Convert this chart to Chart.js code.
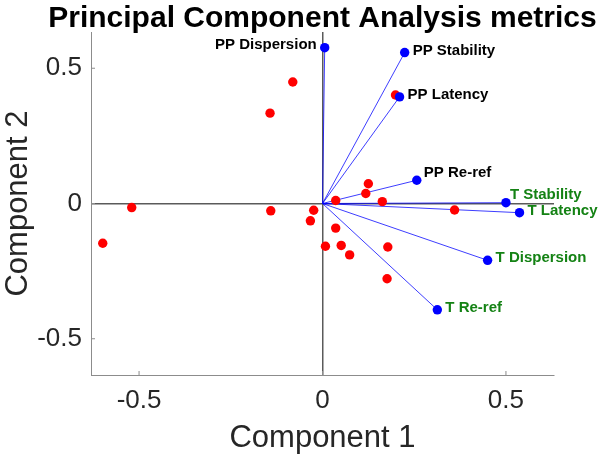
<!DOCTYPE html>
<html>
<head>
<meta charset="utf-8">
<style>
  html, body { margin: 0; padding: 0; background: #fff; }
</style>
</head>
<body>
<canvas id="pcaChart" width="600" height="454"></canvas>

<script src="https://cdn.jsdelivr.net/npm/chart.js"></script>
<script>
  // scores (red points)
  const scoreX = [-0.599, -0.520, -0.143, -0.081, -0.141, -0.024, -0.033, 0.199, 0.125, 0.118,
                  0.036, 0.163, 0.360, 0.036, 0.008, 0.051, 0.074, 0.178, 0.176];
  const scoreY = [-0.147, -0.015, 0.334, 0.449, -0.027, -0.025, -0.064, 0.401, 0.073, 0.037,
                  0.011, 0.007, -0.024, -0.091, -0.158, -0.155, -0.190, -0.161, -0.278];

  // loadings (blue vectors + labels)
  const loadingNames = ['PP Dispersion', 'PP Stability', 'PP Latency', 'PP Re-ref',
                        'T Stability', 'T Latency', 'T Dispersion', 'T Re-ref'];
  const loadingX = [0.006, 0.224, 0.210, 0.257, 0.500, 0.537, 0.450, 0.313];
  const loadingY = [0.576, 0.558, 0.394, 0.086, 0.003, -0.034, -0.210, -0.393];

  const tickValues = [-0.5, 0, 0.5];
  const xRange = [-0.631, 0.631];
  const yRange = [-0.634, 0.634];

  const titleText = 'Principal Component Analysis metrics';
  const xTitle = 'Component 1';
  const yTitle = 'Component 2';

  const FONT = "'Liberation Sans', Arial, Helvetica, sans-serif";

  // label placement tweaks (dx, dy, align)
  const labelOffsets = {
    'PP Dispersion': [-8, -3, 'right'],
    'PP Re-ref': [7, -7, 'left'],
    'T Stability': [4, -8, 'left']
  };

  // datasets
  const loadingPoints = loadingX.map((x, i) => ({ x: x, y: loadingY[i] }));
  const scorePoints = scoreX.map((x, i) => ({ x: x, y: scoreY[i] }));

  const vectorSets = loadingPoints.map(p => ({
    type: 'line',
    data: [{ x: 0, y: 0 }, p],
    borderColor: 'rgba(0,0,255,0.85)',
    borderWidth: 0.9,
    pointRadius: 0,
    fill: false,
    order: 2
  }));

  // titre + petites graduations vers l'intérieur + étiquettes des vecteurs
  const extras = {
    id: 'extras',
    beforeDatasetsDraw(chart) {
      const { ctx, chartArea, scales } = chart;
      ctx.save();
      ctx.strokeStyle = '#8c8c8c';
      ctx.lineWidth = 1;
      tickValues.forEach(v => {
        const py = scales.y.getPixelForValue(v);
        ctx.beginPath();
        ctx.moveTo(chartArea.left, py);
        ctx.lineTo(chartArea.left + 4, py);
        ctx.stroke();
        const px = scales.x.getPixelForValue(v);
        ctx.beginPath();
        ctx.moveTo(px, chartArea.bottom);
        ctx.lineTo(px, chartArea.bottom - 4);
        ctx.stroke();
      });
      ctx.restore();
    },
    afterDatasetsDraw(chart) {
      const { ctx, chartArea } = chart;
      ctx.save();
      // title
      ctx.fillStyle = '#000';
      ctx.font = 'bold 30px ' + FONT;
      ctx.textAlign = 'center';
      ctx.textBaseline = 'alphabetic';
      ctx.fillText(titleText, (chartArea.left + chartArea.right) / 2, 26.5);

      // labels
      const meta = chart.getDatasetMeta(0);
      ctx.font = 'bold 15px ' + FONT;
      ctx.textBaseline = 'middle';
      loadingNames.forEach((name, i) => {
        const el = meta.data[i];
        const off = labelOffsets[name] || [8, -2, 'left'];
        ctx.textAlign = off[2];
        ctx.fillStyle = name.startsWith('T ') ? 'rgb(20,130,20)' : '#000';
        ctx.fillText(name, el.x + off[0], el.y + off[1]);
      });
      ctx.restore();
    }
  };

  const zeroGrid = ctx => (ctx.tick && ctx.tick.value === 0) ? '#5a5a5a' : 'rgba(0,0,0,0)';

  new Chart(document.getElementById('pcaChart'), {
    type: 'scatter',
    data: {
      datasets: [
        {
          data: loadingPoints,
          backgroundColor: '#0000ff',
          borderWidth: 0,
          pointRadius: 4.7,
          order: 0
        },
        {
          data: scorePoints,
          backgroundColor: '#ff0000',
          borderWidth: 0,
          pointRadius: 4.7,
          order: 1
        },
        ...vectorSets
      ]
    },
    options: {
      responsive: false,
      animation: false,
      layout: { padding: { top: 32, right: 46, left: 0, bottom: 0 } },
      plugins: {
        legend: { display: false },
        tooltip: { enabled: false },
        title: { display: false }
      },
      scales: {
        x: {
          type: 'linear',
          min: xRange[0],
          max: xRange[1],
          afterBuildTicks: s => { s.ticks = tickValues.map(v => ({ value: v })); },
          afterFit: s => { s.height = 79; },
          grid: { color: zeroGrid, lineWidth: 1.5, drawTicks: false },
          border: { display: true, color: '#8c8c8c', width: 1 },
          ticks: {
            padding: 10,
            color: '#262626',
            font: { family: FONT, size: 26 },
            callback: v => String(v)
          },
          title: {
            display: true,
            text: xTitle,
            color: '#262626',
            font: { family: FONT, size: 31, lineHeight: 1.0 },
            padding: { top: 0, bottom: 0 }
          }
        },
        y: {
          type: 'linear',
          min: yRange[0],
          max: yRange[1],
          afterBuildTicks: s => { s.ticks = tickValues.map(v => ({ value: v })); },
          afterFit: s => { s.width = 91; },
          grid: { color: zeroGrid, lineWidth: 1.5, drawTicks: false },
          border: { display: true, color: '#8c8c8c', width: 1 },
          ticks: {
            padding: 9,
            color: '#262626',
            font: { family: FONT, size: 26 },
            callback: v => String(v)
          },
          title: {
            display: true,
            text: yTitle,
            color: '#262626',
            font: { family: FONT, size: 31, lineHeight: 1.0 },
            padding: { top: 3, bottom: 0 }
          }
        }
      }
    },
    plugins: [extras]
  });
</script>
</body>
</html>
